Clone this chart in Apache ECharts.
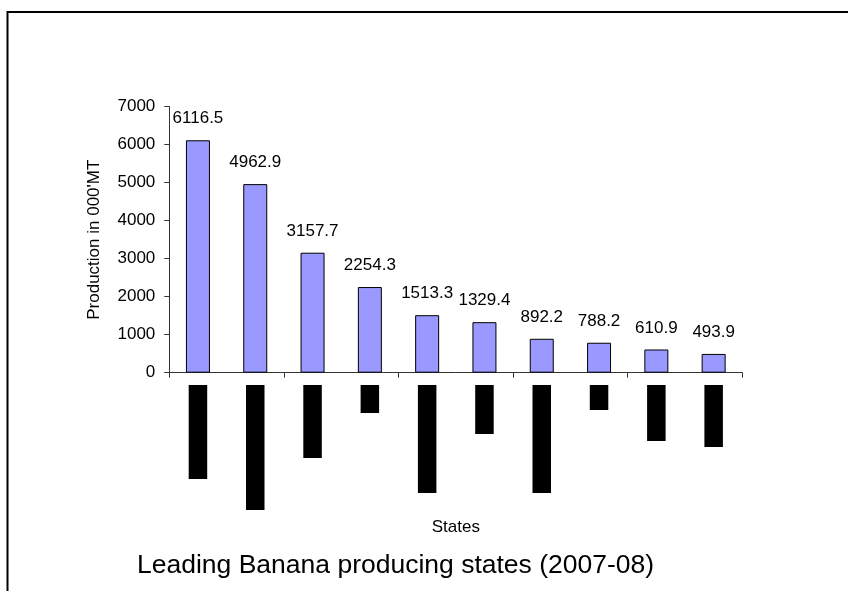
<!DOCTYPE html>
<html>
<head>
<meta charset="utf-8">
<script src="https://cdn.jsdelivr.net/npm/echarts@6/dist/echarts.min.js"></script>
<style>
html,body{margin:0;padding:0;background:#fff;}
#chart{width:848px;height:591px;}
</style>
</head>
<body>
<div id="chart"></div>
<script>
// Categories (state names are not legible in the reference; shown as black blocks)
const categories = ['State 1','State 2','State 3','State 4','State 5','State 6','State 7','State 8','State 9','State 10'];
// Production in 000'MT
const production = [6116.5, 4962.9, 3157.7, 2254.3, 1513.3, 1329.4, 892.2, 788.2, 610.9, 493.9];
// Relative lengths of the (illegible) rotated category label blocks
const labelBlocks = [94, 125, 73, 28, 108, 49, 108, 25, 56, 62];
const yTicks = {min: 0, max: 7000, interval: 1000};

const FONT = 'Liberation Sans, Arial, sans-serif';
const chart = echarts.init(document.getElementById('chart'));
chart.setOption({
  backgroundColor: '#fff',
  animation: false,
  textStyle: {fontFamily: FONT, color: '#000'},
  title: {
    text: 'Leading Banana producing states (2007-08)',
    left: 137, top: 552, padding: 0,
    textStyle: {fontFamily: FONT, fontSize: 26.5, fontWeight: 'normal', color: '#000'}
  },
  graphic: [{
    type: 'rect', silent: true,
    shape: {x: 7.5, y: 12, width: 900, height: 700},
    style: {fill: 'none', stroke: '#000', lineWidth: 2}
  }],
  grid: [
    {left: 169.3, top: 106.7, width: 573, height: 266, containLabel: false},
    {left: 169.3, top: 385, width: 573, height: 130, containLabel: false}
  ],
  xAxis: [{
    type: 'category', gridIndex: 0, data: categories,
    axisLine: {show: true, lineStyle: {color: '#333', width: 1}},
    axisTick: {show: true, length: 5, lineStyle: {color: '#333'}},
    axisLabel: {show: false},
    name: 'States', nameLocation: 'middle', nameGap: 146,
    nameTextStyle: {fontFamily: FONT, fontSize: 17, color: '#000'}
  }, {
    type: 'category', gridIndex: 1, data: categories, show: false
  }],
  yAxis: [{
    type: 'value', gridIndex: 0, min: yTicks.min, max: yTicks.max, interval: yTicks.interval,
    axisLine: {show: true, lineStyle: {color: '#333', width: 1}},
    axisTick: {show: true, length: 5, lineStyle: {color: '#333'}},
    splitLine: {show: false},
    axisLabel: {fontFamily: FONT, fontSize: 17, color: '#000', margin: 14, formatter: function (v) { return String(v); }},
    name: "Production in 000'MT", nameLocation: 'middle', nameGap: 66, nameRotate: 90,
    nameTextStyle: {fontFamily: FONT, fontSize: 17, color: '#000'}
  }, {
    type: 'value', gridIndex: 1, min: 0, max: 130, inverse: true, show: false
  }],
  series: [{
    type: 'bar', xAxisIndex: 0, yAxisIndex: 0, data: production,
    barWidth: 24,
    itemStyle: {color: '#9999FF', borderColor: '#000', borderWidth: 1},
    label: {show: true, position: 'top', distance: 13, fontFamily: FONT, fontSize: 17, color: '#000'}
  }, {
    type: 'bar', xAxisIndex: 1, yAxisIndex: 1, data: labelBlocks,
    barWidth: 18.5, silent: true,
    itemStyle: {color: '#000'}
  }]
});
</script>
</body>
</html>
